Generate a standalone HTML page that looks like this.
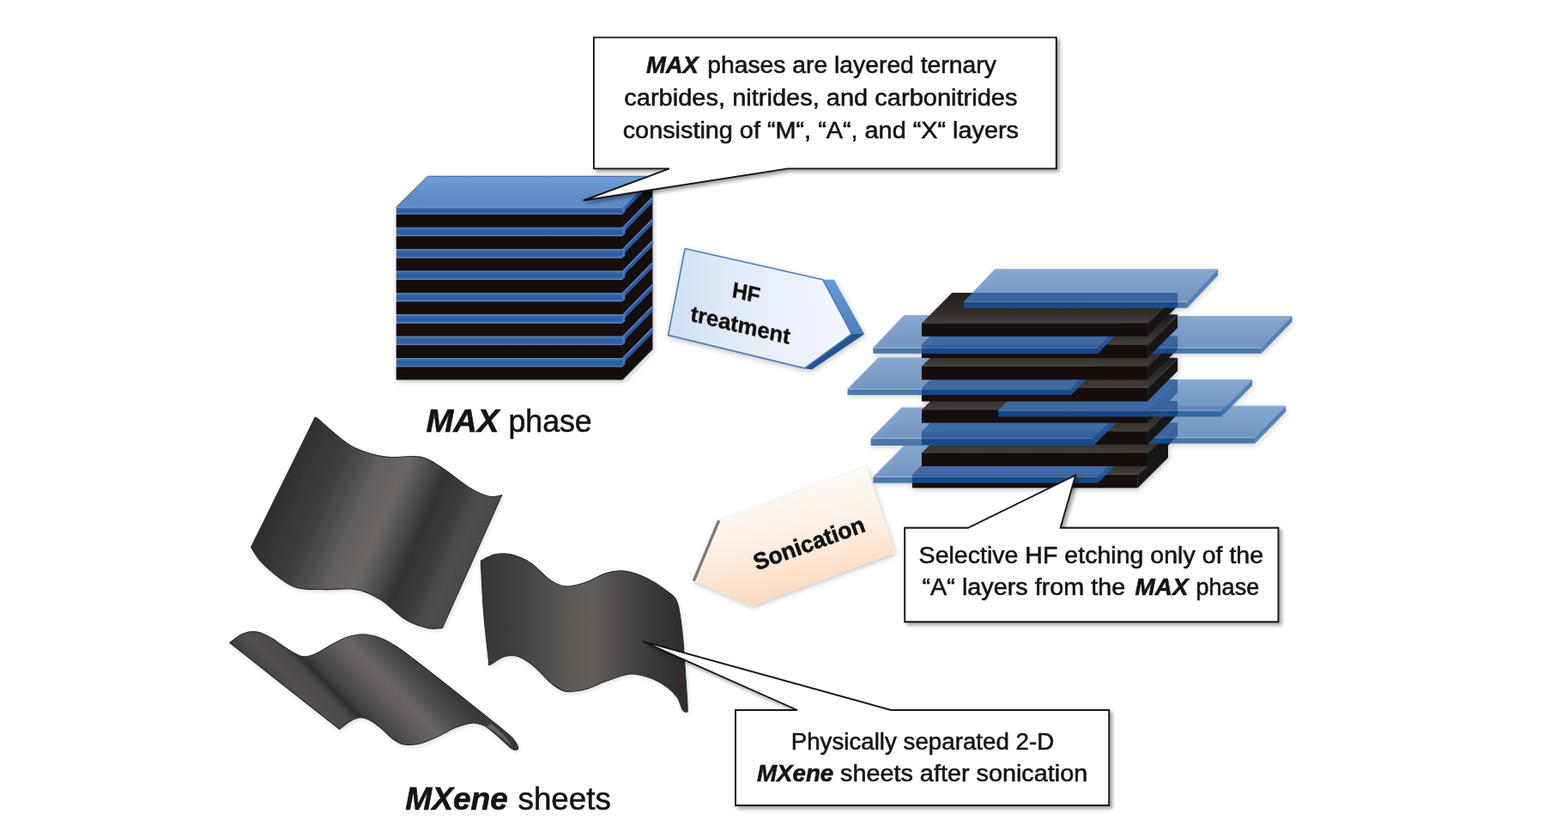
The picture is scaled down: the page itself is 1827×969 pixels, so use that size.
<!DOCTYPE html>
<html lang="en">
<head>
<meta charset="utf-8">
<title>MAX phase to MXene sheets</title>
<style>
html,body{margin:0;padding:0;background:#fff;}
body{width:1827px;height:969px;overflow:hidden;}
svg text{font-family:"Liberation Sans",sans-serif;}
</style>
</head>
<body>
<svg width="1827" height="969" viewBox="0 0 1827 969" style="display:block">

<defs>
<filter id="sh" x="-10%" y="-10%" width="125%" height="140%">
  <feGaussianBlur in="SourceAlpha" stdDeviation="2.2"/>
  <feOffset dx="2.5" dy="2.5" result="o"/>
  <feComponentTransfer><feFuncA type="linear" slope="0.38"/></feComponentTransfer>
  <feMerge><feMergeNode/><feMergeNode in="SourceGraphic"/></feMerge>
</filter>
<filter id="sh2" x="-10%" y="-10%" width="125%" height="140%">
  <feGaussianBlur in="SourceAlpha" stdDeviation="3"/>
  <feOffset dx="1" dy="2" result="o"/>
  <feComponentTransfer><feFuncA type="linear" slope="0.25"/></feComponentTransfer>
  <feMerge><feMergeNode/><feMergeNode in="SourceGraphic"/></feMerge>
</filter>
<filter id="sh3" x="-10%" y="-10%" width="125%" height="140%">
  <feGaussianBlur in="SourceAlpha" stdDeviation="2.5"/>
  <feOffset dx="0.5" dy="1.5" result="o"/>
  <feComponentTransfer><feFuncA type="linear" slope="0.14"/></feComponentTransfer>
  <feMerge><feMergeNode/><feMergeNode in="SourceGraphic"/></feMerge>
</filter>
<filter id="blur1"><feGaussianBlur stdDeviation="0.6"/></filter>
<linearGradient id="gBlueFront" x1="0" y1="0" x2="0" y2="1">
  <stop offset="0" stop-color="#5f88bf"/><stop offset="0.18" stop-color="#3a69aa"/><stop offset="0.5" stop-color="#2c5b9f"/><stop offset="0.82" stop-color="#3163a9"/><stop offset="1" stop-color="#6b98cf"/>
</linearGradient>
<linearGradient id="gBlueTop" x1="0" y1="0" x2="0" y2="1">
  <stop offset="0" stop-color="#6f9dd5"/><stop offset="0.75" stop-color="#6189c4"/><stop offset="1" stop-color="#5a8dc9"/>
</linearGradient>
<linearGradient id="gHF" x1="0" y1="0.5" x2="1" y2="0.5">
  <stop offset="0" stop-color="#cfdff4"/><stop offset="0.35" stop-color="#e1ebf8"/><stop offset="1" stop-color="#f3f7fc"/>
</linearGradient>
<linearGradient id="gHFside" x1="0" y1="0" x2="0" y2="1">
  <stop offset="0" stop-color="#6a9ad6"/><stop offset="0.55" stop-color="#4f82c2"/><stop offset="1" stop-color="#2c5a98"/>
</linearGradient>
<linearGradient id="gSon" x1="0.3" y1="0" x2="0.6" y2="1">
  <stop offset="0" stop-color="#fffdfb"/><stop offset="0.45" stop-color="#fef2e8"/><stop offset="1" stop-color="#fbd5b6"/>
</linearGradient>
<linearGradient id="gA" gradientUnits="userSpaceOnUse" x1="330" y1="560" x2="550" y2="655">
  <stop offset="0" stop-color="#302e2d"/><stop offset="0.22" stop-color="#413f3e"/><stop offset="0.40" stop-color="#625f5d"/><stop offset="0.52" stop-color="#6a6765"/>
  <stop offset="0.62" stop-color="#504d4c"/><stop offset="0.71" stop-color="#343231"/><stop offset="0.80" stop-color="#3b3938"/><stop offset="0.92" stop-color="#514e4d"/><stop offset="1" stop-color="#4a4746"/>
</linearGradient>
<linearGradient id="gB" gradientUnits="userSpaceOnUse" x1="560" y1="0" x2="802" y2="0">
  <stop offset="0" stop-color="#373534"/><stop offset="0.2" stop-color="#434140"/><stop offset="0.42" stop-color="#5c5957"/><stop offset="0.55" stop-color="#5f5c5a"/>
  <stop offset="0.72" stop-color="#484544"/><stop offset="0.88" stop-color="#353332"/><stop offset="1" stop-color="#2e2c2b"/>
</linearGradient>
<linearGradient id="gC" gradientUnits="userSpaceOnUse" x1="300" y1="783.5" x2="408" y2="679.5">
  <stop offset="0" stop-color="#3d3b3a"/><stop offset="0.14" stop-color="#545150"/><stop offset="0.27" stop-color="#4b4847"/><stop offset="0.325" stop-color="#302e2d"/><stop offset="0.4" stop-color="#454241"/>
  <stop offset="0.55" stop-color="#5c5957"/><stop offset="0.68" stop-color="#696664"/><stop offset="0.84" stop-color="#4d4a49"/><stop offset="1" stop-color="#3a3837"/>
</linearGradient>
</defs>

<rect width="1827" height="969" fill="#ffffff"/>
<g filter="url(#sh2)">
<rect x="461.7" y="241.4" width="264.0" height="8.2" fill="url(#gBlueFront)"/>
<rect x="461.7" y="249.6" width="264.0" height="15.3" fill="#131110"/>
<polygon points="725.1,241.1 760.4,205.1 760.4,229.2 725.1,265.2" fill="#141110" />
<polygon points="725.1,241.4 760.4,205.4 760.4,212.4 725.1,248.4" fill="#2b589e" />
<polygon points="725.1,241.4 760.4,205.4 760.4,207.2 725.1,243.2" fill="#5a8bd0" />
<polygon points="725.1,241.4 728.3,238.7 728.3,246.9 725.1,249.6" fill="#4276bb" />
<rect x="461.7" y="264.9" width="264.0" height="10.2" fill="url(#gBlueFront)"/>
<rect x="461.7" y="275.1" width="264.0" height="15.2" fill="#131110"/>
<polygon points="725.1,264.6 760.4,228.6 760.4,254.6 725.1,290.6" fill="#141110" />
<polygon points="725.1,264.9 760.4,228.9 760.4,235.9 725.1,271.9" fill="#2b589e" />
<polygon points="725.1,264.9 760.4,228.9 760.4,230.7 725.1,266.7" fill="#5a8bd0" />
<polygon points="725.1,264.9 728.3,262.2 728.3,272.4 725.1,275.1" fill="#4276bb" />
<rect x="461.7" y="290.3" width="264.0" height="10.2" fill="url(#gBlueFront)"/>
<rect x="461.7" y="300.5" width="264.0" height="15.2" fill="#131110"/>
<polygon points="725.1,290.0 760.4,254.0 760.4,279.9 725.1,315.9" fill="#141110" />
<polygon points="725.1,290.3 760.4,254.3 760.4,261.3 725.1,297.3" fill="#2b589e" />
<polygon points="725.1,290.3 760.4,254.3 760.4,256.1 725.1,292.1" fill="#5a8bd0" />
<polygon points="725.1,290.3 728.3,287.6 728.3,297.8 725.1,300.5" fill="#4276bb" />
<rect x="461.7" y="315.6" width="264.0" height="10.2" fill="url(#gBlueFront)"/>
<rect x="461.7" y="325.8" width="264.0" height="15.2" fill="#131110"/>
<polygon points="725.1,315.3 760.4,279.3 760.4,305.3 725.1,341.3" fill="#141110" />
<polygon points="725.1,315.6 760.4,279.6 760.4,286.6 725.1,322.6" fill="#2b589e" />
<polygon points="725.1,315.6 760.4,279.6 760.4,281.4 725.1,317.4" fill="#5a8bd0" />
<polygon points="725.1,315.6 728.3,312.9 728.3,323.1 725.1,325.8" fill="#4276bb" />
<rect x="461.7" y="341.0" width="264.0" height="10.2" fill="url(#gBlueFront)"/>
<rect x="461.7" y="351.2" width="264.0" height="15.2" fill="#131110"/>
<polygon points="725.1,340.7 760.4,304.7 760.4,330.7 725.1,366.7" fill="#141110" />
<polygon points="725.1,341.0 760.4,305.0 760.4,312.0 725.1,348.0" fill="#2b589e" />
<polygon points="725.1,341.0 760.4,305.0 760.4,306.8 725.1,342.8" fill="#5a8bd0" />
<polygon points="725.1,341.0 728.3,338.3 728.3,348.5 725.1,351.2" fill="#4276bb" />
<rect x="461.7" y="366.4" width="264.0" height="10.2" fill="url(#gBlueFront)"/>
<rect x="461.7" y="376.6" width="264.0" height="15.2" fill="#131110"/>
<polygon points="725.1,366.1 760.4,330.1 760.4,356.1 725.1,392.1" fill="#141110" />
<polygon points="725.1,366.4 760.4,330.4 760.4,337.4 725.1,373.4" fill="#2b589e" />
<polygon points="725.1,366.4 760.4,330.4 760.4,332.2 725.1,368.2" fill="#5a8bd0" />
<polygon points="725.1,366.4 728.3,363.7 728.3,373.9 725.1,376.6" fill="#4276bb" />
<rect x="461.7" y="391.8" width="264.0" height="10.2" fill="url(#gBlueFront)"/>
<rect x="461.7" y="401.9" width="264.0" height="15.2" fill="#131110"/>
<polygon points="725.1,391.4 760.4,355.4 760.4,381.4 725.1,417.4" fill="#141110" />
<polygon points="725.1,391.8 760.4,355.8 760.4,362.8 725.1,398.8" fill="#2b589e" />
<polygon points="725.1,391.8 760.4,355.8 760.4,357.6 725.1,393.6" fill="#5a8bd0" />
<polygon points="725.1,391.8 728.3,389.1 728.3,399.2 725.1,401.9" fill="#4276bb" />
<rect x="461.7" y="417.1" width="264.0" height="10.2" fill="url(#gBlueFront)"/>
<rect x="461.7" y="427.3" width="264.0" height="15.1" fill="#131110"/>
<polygon points="725.1,416.8 760.4,380.8 760.4,406.7 725.1,442.7" fill="#141110" />
<polygon points="725.1,417.1 760.4,381.1 760.4,388.1 725.1,424.1" fill="#2b589e" />
<polygon points="725.1,417.1 760.4,381.1 760.4,382.9 725.1,418.9" fill="#5a8bd0" />
<polygon points="725.1,417.1 728.3,414.4 728.3,424.6 725.1,427.3" fill="#4276bb" />
<polygon points="461.7,241.4 498.5,205.4 760.4,205.4 725.7,241.4" fill="url(#gBlueTop)" />
<path d="M461.7,241.4 L498.5,205.4 L760.4000000000001,205.4" fill="none" stroke="#3f6494" stroke-width="1.2" opacity="0.8"/>
</g>
<clipPath id="stackclip">
<polygon points="1074.0,376.4 1109.3,341.1 1372.1,341.1 1372.1,356.5 1336.8,391.8 1074.0,391.8" fill="#000" />
<polygon points="1074.0,401.6 1109.3,366.3 1372.1,366.3 1372.1,381.7 1336.8,417.0 1074.0,417.0" fill="#000" />
<polygon points="1074.0,426.8 1109.3,391.5 1372.1,391.5 1372.1,406.9 1336.8,442.2 1074.0,442.2" fill="#000" />
<polygon points="1074.0,452.0 1109.3,416.7 1372.1,416.7 1372.1,432.1 1336.8,467.4 1074.0,467.4" fill="#000" />
<polygon points="1074.0,477.2 1109.3,441.9 1372.1,441.9 1372.1,457.3 1336.8,492.6 1074.0,492.6" fill="#000" />
<polygon points="1074.0,502.4 1109.3,467.1 1372.1,467.1 1372.1,482.5 1336.8,517.8 1074.0,517.8" fill="#000" />
<polygon points="1074.0,527.6 1109.3,492.3 1372.1,492.3 1372.1,507.7 1336.8,543.0 1074.0,543.0" fill="#000" />
<polygon points="1062.9,552.8 1098.2,517.5 1361.0,517.5 1361.0,532.9 1325.7,568.2 1062.9,568.2" fill="#000" />
</clipPath>
<linearGradient id="gSlabTop" x1="0" y1="1" x2="0" y2="0"><stop offset="0" stop-color="#463e3a"/><stop offset="0.3" stop-color="#352f2c"/><stop offset="1" stop-color="#211c1a"/></linearGradient>
<linearGradient id="gShTop" x1="0" y1="0" x2="0" y2="1"><stop offset="0" stop-color="#6792c8"/><stop offset="1" stop-color="#527db3"/></linearGradient>
<g filter="url(#sh2)">
<polygon points="1062.9,552.8 1098.2,517.5 1361.0,517.5 1325.7,552.8" fill="url(#gSlabTop)" />
<polygon points="1325.7,552.8 1361.0,517.5 1361.0,532.9 1325.7,568.2" fill="#191514" />
<polygon points="1325.7,552.8 1361.0,517.5 1361.0,519.1 1325.7,554.4" fill="#3a3431" />
<polygon points="1062.9,552.8 1325.7,552.8 1325.7,568.2 1062.9,568.2" fill="#15110f" />
<g opacity="0.74">
<polygon points="1017.4,555.2 1053.4,519.0 1315.2,519.0 1279.2,555.2" fill="url(#gShTop)" />
<polygon points="1279.2,555.2 1315.2,519.0 1315.2,526.4 1279.2,562.6" fill="#2a62a4" />
<polygon points="1017.4,555.2 1279.2,555.2 1279.2,562.6 1017.4,562.6" fill="#1b5594" />
<polygon points="1017.4,554.7 1279.2,554.7 1279.2,555.9 1017.4,555.9" fill="#7ea3d2" />
</g>
<g clip-path="url(#stackclip)" opacity="0.3">
<polygon points="1017.4,555.2 1053.4,519.0 1315.2,519.0 1279.2,555.2" fill="#1d5cc0" />
<polygon points="1279.2,555.2 1315.2,519.0 1315.2,526.4 1279.2,562.6" fill="#1a56b8" />
<polygon points="1017.4,555.2 1279.2,555.2 1279.2,562.6 1017.4,562.6" fill="#1a56b8" />
</g>
<polygon points="1074.0,527.6 1109.3,492.3 1372.1,492.3 1336.8,527.6" fill="url(#gSlabTop)" />
<polygon points="1336.8,527.6 1372.1,492.3 1372.1,507.7 1336.8,543.0" fill="#191514" />
<polygon points="1336.8,527.6 1372.1,492.3 1372.1,493.9 1336.8,529.2" fill="#3a3431" />
<polygon points="1074.0,527.6 1336.8,527.6 1336.8,543.0 1074.0,543.0" fill="#15110f" />
<g opacity="0.74">
<polygon points="1290.0,509.5 1326.0,472.5 1498.2,472.5 1462.2,509.5" fill="url(#gShTop)" />
<polygon points="1462.2,509.5 1498.2,472.5 1498.2,479.5 1462.2,516.5" fill="#2a62a4" />
<polygon points="1290.0,509.5 1462.2,509.5 1462.2,516.5 1290.0,516.5" fill="#1b5594" />
<polygon points="1290.0,509.0 1462.2,509.0 1462.2,510.2 1290.0,510.2" fill="#7ea3d2" />
</g>
<g clip-path="url(#stackclip)" opacity="0.3">
<polygon points="1290.0,509.5 1326.0,472.5 1498.2,472.5 1462.2,509.5" fill="#1d5cc0" />
<polygon points="1462.2,509.5 1498.2,472.5 1498.2,479.5 1462.2,516.5" fill="#1a56b8" />
<polygon points="1290.0,509.5 1462.2,509.5 1462.2,516.5 1290.0,516.5" fill="#1a56b8" />
</g>
<polygon points="1074.0,502.4 1109.3,467.1 1372.1,467.1 1336.8,502.4" fill="url(#gSlabTop)" />
<polygon points="1336.8,502.4 1372.1,467.1 1372.1,482.5 1336.8,517.8" fill="#191514" />
<polygon points="1336.8,502.4 1372.1,467.1 1372.1,468.7 1336.8,504.0" fill="#3a3431" />
<polygon points="1074.0,502.4 1336.8,502.4 1336.8,517.8 1074.0,517.8" fill="#15110f" />
<g opacity="0.74">
<polygon points="1014.6,510.5 1050.6,474.4 1310.0,474.4 1274.0,510.5" fill="url(#gShTop)" />
<polygon points="1274.0,510.5 1310.0,474.4 1310.0,482.9 1274.0,519.0" fill="#2a62a4" />
<polygon points="1014.6,510.5 1274.0,510.5 1274.0,519.0 1014.6,519.0" fill="#1b5594" />
<polygon points="1014.6,510.0 1274.0,510.0 1274.0,511.2 1014.6,511.2" fill="#7ea3d2" />
</g>
<g clip-path="url(#stackclip)" opacity="0.3">
<polygon points="1014.6,510.5 1050.6,474.4 1310.0,474.4 1274.0,510.5" fill="#1d5cc0" />
<polygon points="1274.0,510.5 1310.0,474.4 1310.0,482.9 1274.0,519.0" fill="#1a56b8" />
<polygon points="1014.6,510.5 1274.0,510.5 1274.0,519.0 1014.6,519.0" fill="#1a56b8" />
</g>
<polygon points="1074.0,477.2 1109.3,441.9 1372.1,441.9 1336.8,477.2" fill="url(#gSlabTop)" />
<polygon points="1336.8,477.2 1372.1,441.9 1372.1,457.3 1336.8,492.6" fill="#191514" />
<polygon points="1336.8,477.2 1372.1,441.9 1372.1,443.5 1336.8,478.8" fill="#3a3431" />
<polygon points="1074.0,477.2 1336.8,477.2 1336.8,492.6 1074.0,492.6" fill="#15110f" />
<g opacity="0.74">
<polygon points="1163.2,478.0 1199.2,441.9 1459.2,441.9 1423.2,478.0" fill="url(#gShTop)" />
<polygon points="1423.2,478.0 1459.2,441.9 1459.2,449.1 1423.2,485.2" fill="#2a62a4" />
<polygon points="1163.2,478.0 1423.2,478.0 1423.2,485.2 1163.2,485.2" fill="#1b5594" />
<polygon points="1163.2,477.5 1423.2,477.5 1423.2,478.7 1163.2,478.7" fill="#7ea3d2" />
</g>
<g clip-path="url(#stackclip)" opacity="0.3">
<polygon points="1163.2,478.0 1199.2,441.9 1459.2,441.9 1423.2,478.0" fill="#1d5cc0" />
<polygon points="1423.2,478.0 1459.2,441.9 1459.2,449.1 1423.2,485.2" fill="#1a56b8" />
<polygon points="1163.2,478.0 1423.2,478.0 1423.2,485.2 1163.2,485.2" fill="#1a56b8" />
</g>
<polygon points="1074.0,452.0 1109.3,416.7 1372.1,416.7 1336.8,452.0" fill="url(#gSlabTop)" />
<polygon points="1336.8,452.0 1372.1,416.7 1372.1,432.1 1336.8,467.4" fill="#191514" />
<polygon points="1336.8,452.0 1372.1,416.7 1372.1,418.3 1336.8,453.6" fill="#3a3431" />
<polygon points="1074.0,452.0 1336.8,452.0 1336.8,467.4 1074.0,467.4" fill="#15110f" />
<g opacity="0.74">
<polygon points="987.6,453.0 1023.6,416.3 1284.0,416.3 1248.0,453.0" fill="url(#gShTop)" />
<polygon points="1248.0,453.0 1284.0,416.3 1284.0,423.3 1248.0,460.0" fill="#2a62a4" />
<polygon points="987.6,453.0 1248.0,453.0 1248.0,460.0 987.6,460.0" fill="#1b5594" />
<polygon points="987.6,452.5 1248.0,452.5 1248.0,453.7 987.6,453.7" fill="#7ea3d2" />
</g>
<g clip-path="url(#stackclip)" opacity="0.3">
<polygon points="987.6,453.0 1023.6,416.3 1284.0,416.3 1248.0,453.0" fill="#1d5cc0" />
<polygon points="1248.0,453.0 1284.0,416.3 1284.0,423.3 1248.0,460.0" fill="#1a56b8" />
<polygon points="987.6,453.0 1248.0,453.0 1248.0,460.0 987.6,460.0" fill="#1a56b8" />
</g>
<polygon points="1074.0,426.8 1109.3,391.5 1372.1,391.5 1336.8,426.8" fill="url(#gSlabTop)" />
<polygon points="1336.8,426.8 1372.1,391.5 1372.1,406.9 1336.8,442.2" fill="#191514" />
<polygon points="1336.8,426.8 1372.1,391.5 1372.1,393.1 1336.8,428.4" fill="#3a3431" />
<polygon points="1074.0,426.8 1336.8,426.8 1336.8,442.2 1074.0,442.2" fill="#15110f" />
<g opacity="0.74">
<polygon points="1290.0,405.0 1326.0,368.0 1505.6,368.0 1469.6,405.0" fill="url(#gShTop)" />
<polygon points="1469.6,405.0 1505.6,368.0 1505.6,374.7 1469.6,411.7" fill="#2a62a4" />
<polygon points="1290.0,405.0 1469.6,405.0 1469.6,411.7 1290.0,411.7" fill="#1b5594" />
<polygon points="1290.0,404.5 1469.6,404.5 1469.6,405.7 1290.0,405.7" fill="#7ea3d2" />
</g>
<g clip-path="url(#stackclip)" opacity="0.3">
<polygon points="1290.0,405.0 1326.0,368.0 1505.6,368.0 1469.6,405.0" fill="#1d5cc0" />
<polygon points="1469.6,405.0 1505.6,368.0 1505.6,374.7 1469.6,411.7" fill="#1a56b8" />
<polygon points="1290.0,405.0 1469.6,405.0 1469.6,411.7 1290.0,411.7" fill="#1a56b8" />
</g>
<polygon points="1074.0,401.6 1109.3,366.3 1372.1,366.3 1336.8,401.6" fill="url(#gSlabTop)" />
<polygon points="1336.8,401.6 1372.1,366.3 1372.1,381.7 1336.8,417.0" fill="#191514" />
<polygon points="1336.8,401.6 1372.1,366.3 1372.1,367.9 1336.8,403.2" fill="#3a3431" />
<polygon points="1074.0,401.6 1336.8,401.6 1336.8,417.0 1074.0,417.0" fill="#15110f" />
<g opacity="0.74">
<polygon points="1017.4,405.0 1053.4,367.1 1315.3,367.1 1279.3,405.0" fill="url(#gShTop)" />
<polygon points="1279.3,405.0 1315.3,367.1 1315.3,373.8 1279.3,411.7" fill="#2a62a4" />
<polygon points="1017.4,405.0 1279.3,405.0 1279.3,411.7 1017.4,411.7" fill="#1b5594" />
<polygon points="1017.4,404.5 1279.3,404.5 1279.3,405.7 1017.4,405.7" fill="#7ea3d2" />
</g>
<g clip-path="url(#stackclip)" opacity="0.3">
<polygon points="1017.4,405.0 1053.4,367.1 1315.3,367.1 1279.3,405.0" fill="#1d5cc0" />
<polygon points="1279.3,405.0 1315.3,367.1 1315.3,373.8 1279.3,411.7" fill="#1a56b8" />
<polygon points="1017.4,405.0 1279.3,405.0 1279.3,411.7 1017.4,411.7" fill="#1a56b8" />
</g>
<polygon points="1074.0,376.4 1109.3,341.1 1372.1,341.1 1336.8,376.4" fill="url(#gSlabTop)" />
<polygon points="1336.8,376.4 1372.1,341.1 1372.1,356.5 1336.8,391.8" fill="#191514" />
<polygon points="1336.8,376.4 1372.1,341.1 1372.1,342.7 1336.8,378.0" fill="#3a3431" />
<polygon points="1074.0,376.4 1336.8,376.4 1336.8,391.8 1074.0,391.8" fill="#15110f" />
<g opacity="0.74">
<polygon points="1123.2,351.3 1159.2,313.2 1419.2,313.2 1383.2,351.3" fill="url(#gShTop)" />
<polygon points="1383.2,351.3 1419.2,313.2 1419.2,320.6 1383.2,358.7" fill="#2a62a4" />
<polygon points="1123.2,351.3 1383.2,351.3 1383.2,358.7 1123.2,358.7" fill="#1b5594" />
<polygon points="1123.2,350.8 1383.2,350.8 1383.2,352.0 1123.2,352.0" fill="#7ea3d2" />
</g>
<g clip-path="url(#stackclip)" opacity="0.3">
<polygon points="1123.2,351.3 1159.2,313.2 1419.2,313.2 1383.2,351.3" fill="#1d5cc0" />
<polygon points="1383.2,351.3 1419.2,313.2 1419.2,320.6 1383.2,358.7" fill="#1a56b8" />
<polygon points="1123.2,351.3 1383.2,351.3 1383.2,358.7 1123.2,358.7" fill="#1a56b8" />
</g>
</g>
<g filter="url(#sh2)">
<polygon points="958.8,325.7 971.8,325.7 1007.1,388.9 945.8,430.2 937.4,428.9 992.3,388.9" fill="url(#gHFside)" />
<polygon points="992.3,388.9 1007.1,388.9 945.8,430.2 937.4,428.9" fill="#28528d" />
<polygon points="798.1,289.5 958.8,325.7 992.3,388.9 937.4,428.9 778.6,390.4" fill="url(#gHF)" stroke="#4f7db8" stroke-width="1.6" stroke-linejoin="round"/>
</g>
<g transform="translate(869.6,340.3) rotate(13.3) skewX(5)" font-family="'Liberation Sans', sans-serif" font-weight="bold" font-size="25.5" fill="#111" stroke="#111" stroke-width="0.4" opacity="0.995" text-anchor="middle">
<text x="0" y="9.3" textLength="33" lengthAdjust="spacingAndGlyphs">HF</text>
</g>
<g transform="translate(863,377.9) rotate(13.3) skewX(5)" font-family="'Liberation Sans', sans-serif" font-weight="bold" font-size="25.5" fill="#111" stroke="#111" stroke-width="0.4" opacity="0.995" text-anchor="middle">
<text x="0" y="9.3" textLength="119" lengthAdjust="spacingAndGlyphs">treatment</text>
</g>
<g filter="url(#sh2)">
<polygon points="839.0,606.5 1009.6,543.7 1042.9,643.7 876.3,705.5 809.6,677.1" fill="url(#gSon)" />
<polygon points="836.2,605.5 839.2,606.8 809.8,677.3 806.8,676.0" fill="#7e7876" />
</g>
<g transform="translate(942.9,632) rotate(-19.8)" font-family="'Liberation Sans', sans-serif" font-weight="bold" font-size="27" fill="#111" opacity="0.995" text-anchor="middle">
<text x="-0.5" y="9.8" textLength="136" lengthAdjust="spacingAndGlyphs" stroke="#111" stroke-width="0.6">Sonication</text>
</g>
<path d="M366.8,486.8 C367.3,486.9 365.6,484.1 369.7,487.3 C373.8,490.5 383.9,500.3 391.3,506.1 C398.8,511.9 404.8,517.7 414.4,522.0 C424.0,526.3 436.6,530.4 449.1,532.1 C461.6,533.8 478.4,529.9 489.5,532.1 C500.6,534.3 505.9,539.1 515.5,545.1 C525.1,551.1 538.1,562.7 547.3,568.2 C556.4,573.7 564.1,576.9 570.4,578.3 C576.6,579.7 582.4,576.9 584.8,576.6 C573.2,602.4 527.0,705.6 515.5,731.4 C512.6,731.4 505.4,733.1 498.2,731.4 C491.0,729.7 481.3,726.8 472.2,721.3 C463.1,715.8 452.9,704.0 443.3,698.2 C433.7,692.4 425.0,688.3 414.4,686.4 C403.8,684.5 391.8,687.1 379.8,686.6 C367.8,686.1 354.2,688.0 342.2,683.2 C330.2,678.4 315.9,665.4 307.6,657.8 C299.3,650.2 295.0,640.9 292.5,637.5 C304.9,612.4 354.4,511.9 366.8,486.8Z" fill="url(#gA)" stroke="#2c2a29" stroke-width="1.1" stroke-linejoin="round" filter="url(#sh3)"/>
<path d="M560.2,653.2 C562.8,652.0 569.9,647.4 575.6,646.1 C581.3,644.8 587.5,644.0 594.6,645.6 C601.7,647.2 610.8,650.8 618.3,655.6 C625.8,660.4 633.0,670.1 639.7,674.6 C646.4,679.1 651.6,682.3 658.7,682.9 C665.8,683.5 674.5,680.8 682.4,678.2 C690.3,675.6 698.7,669.7 706.2,667.5 C713.7,665.3 719.6,664.1 727.5,665.1 C735.4,666.1 745.3,669.5 753.6,673.4 C761.9,677.3 771.5,684.0 777.4,688.8 C783.3,693.5 786.2,693.6 789.2,701.9 C792.2,710.2 793.6,724.7 795.2,738.7 C796.8,752.8 797.7,772.0 798.7,786.2 C799.7,800.4 800.9,817.0 801.1,824.1 C801.3,831.2 800.9,828.5 799.9,828.9 C798.9,829.3 797.0,829.3 795.2,826.5 C793.4,823.7 792.2,816.6 789.2,812.3 C786.2,807.9 782.5,804.2 777.4,800.4 C772.3,796.6 765.5,792.3 758.4,789.7 C751.3,787.1 743.3,784.4 734.6,785.0 C725.9,785.6 714.9,790.3 706.2,793.3 C697.5,796.3 690.3,800.8 682.4,802.8 C674.5,804.8 665.4,806.3 658.7,805.1 C652.0,803.9 648.0,800.3 642.1,795.6 C636.2,790.9 629.4,781.8 623.1,776.7 C616.8,771.6 610.0,766.8 604.1,764.8 C598.2,762.8 593.0,763.2 587.5,764.8 C582.0,766.4 573.9,773.1 570.9,774.3 C567.9,775.5 569.9,772.3 569.7,771.9 C568.7,762.4 565.3,734.7 563.7,714.9 C562.1,695.1 560.8,663.5 560.2,653.2Z" fill="url(#gB)" stroke="#2c2a29" stroke-width="1.1" stroke-linejoin="round" filter="url(#sh3)"/>
<path d="M267.7,748.5 C270.3,746.8 277.9,740.2 283.3,738.1 C288.7,736.0 294.3,735.1 299.9,736.0 C305.4,736.9 311.1,740.2 316.6,743.3 C322.2,746.4 327.3,751.2 333.2,754.7 C339.1,758.2 346.3,763.3 351.9,764.5 C357.4,765.7 360.9,764.1 366.5,762.0 C372.1,759.9 379.0,754.9 385.2,751.6 C391.4,748.3 397.7,744.4 403.9,742.2 C410.1,740.1 416.4,738.7 422.6,738.7 C428.8,738.7 435.4,740.2 441.3,742.2 C447.2,744.2 451.8,746.8 458.0,750.6 C464.2,754.4 466.7,755.9 478.8,765.1 C490.9,774.3 513.5,792.0 530.8,805.7 C548.1,819.4 571.7,838.3 582.8,847.3 C593.9,856.3 593.8,856.0 597.3,859.8 C600.8,863.6 602.9,867.9 603.6,870.1 C604.3,872.4 602.9,873.1 601.5,873.3 C600.1,873.5 598.4,873.5 595.3,871.2 C592.2,869.0 587.0,863.4 582.8,859.8 C578.6,856.2 573.8,852.0 570.3,849.4 C566.8,846.8 565.5,845.4 562.0,844.2 C558.5,843.0 554.7,841.6 549.5,842.1 C544.3,842.6 537.4,844.7 530.8,847.3 C524.2,849.9 516.9,854.6 510.0,857.7 C503.1,860.8 495.8,864.5 489.2,866.0 C482.6,867.5 475.7,867.9 470.5,867.0 C465.3,866.1 462.2,863.7 458.0,860.8 C453.8,857.9 449.7,852.9 445.5,849.4 C441.3,845.9 437.2,842.3 433.0,840.0 C428.8,837.7 424.6,835.8 420.5,835.8 C416.4,835.8 412.2,837.7 408.1,840.0 C404.0,842.3 397.7,847.8 395.6,849.4 C374.3,832.6 289.0,765.3 267.7,748.5Z" fill="url(#gC)" stroke="#2c2a29" stroke-width="1.1" stroke-linejoin="round" filter="url(#sh3)"/>
<path d="M351.9,764.5 L420.5,835.8" stroke="#2b2928" stroke-width="1.2" fill="none" opacity="0.5"/>
<path d="M566,846 C575,850 586,860 596,869 C592,860 582,850 572,843 Z" fill="#6f6c6a" opacity="0.8"/>
<path d="M691.9,43.6 L1230.8,43.6 L1230.8,196.4 L917.8,196.4 L679.7,233.5 L779.9,196.4 L691.9,196.4 Z" fill="#ffffff" stroke="#141414" stroke-width="1.9" stroke-linejoin="miter" filter="url(#sh)"/>
<text x="752.9" y="84.9" textLength="60.8" lengthAdjust="spacingAndGlyphs" font-family="'Liberation Sans', sans-serif" font-size="27" font-weight="bold" font-style="italic" fill="#151313" stroke="#151313" stroke-width="0.55" opacity="0.995" xml:space="preserve">MAX</text>
<text x="824.2" y="84.9" textLength="336.6" lengthAdjust="spacingAndGlyphs" font-family="'Liberation Sans', sans-serif" font-size="27" fill="#151313" stroke="#151313" stroke-width="0.55" opacity="0.995" xml:space="preserve">phases are layered ternary</text>
<text x="727.3" y="123.1" textLength="458.2" lengthAdjust="spacingAndGlyphs" font-family="'Liberation Sans', sans-serif" font-size="27" fill="#151313" stroke="#151313" stroke-width="0.55" opacity="0.995" xml:space="preserve">carbides, nitrides, and carbonitrides</text>
<text x="725.7" y="161.3" textLength="461.3" lengthAdjust="spacingAndGlyphs" font-family="'Liberation Sans', sans-serif" font-size="27" fill="#151313" stroke="#151313" stroke-width="0.55" opacity="0.995" xml:space="preserve">consisting of “M“, “A“, and “X“ layers</text>
<path d="M1054.2,614.8 L1127.9,614.8 L1253.2,553.5 L1235.6,614.8 L1489.5,614.8 L1489.5,724.2 L1054.2,724.2 Z" fill="#ffffff" stroke="#141414" stroke-width="1.9" stroke-linejoin="miter" filter="url(#sh)"/>
<text x="1070.6" y="655.6" textLength="401.5" lengthAdjust="spacingAndGlyphs" font-family="'Liberation Sans', sans-serif" font-size="27" fill="#151313" stroke="#151313" stroke-width="0.55" opacity="0.995" xml:space="preserve">Selective HF etching only of the</text>
<text x="1074.5" y="692.8" textLength="236.9" lengthAdjust="spacingAndGlyphs" font-family="'Liberation Sans', sans-serif" font-size="27" fill="#151313" stroke="#151313" stroke-width="0.55" opacity="0.995" xml:space="preserve">“A“ layers from the</text>
<text x="1322.5" y="692.8" textLength="62.0" lengthAdjust="spacingAndGlyphs" font-family="'Liberation Sans', sans-serif" font-size="27" font-weight="bold" font-style="italic" fill="#151313" stroke="#151313" stroke-width="0.55" opacity="0.995" xml:space="preserve">MAX</text>
<text x="1393.4" y="692.8" textLength="73.9" lengthAdjust="spacingAndGlyphs" font-family="'Liberation Sans', sans-serif" font-size="27" fill="#151313" stroke="#151313" stroke-width="0.55" opacity="0.995" xml:space="preserve">phase</text>
<path d="M857.0,827.0 L929.0,827.0 L748.9,747 L1038.1,827.0 L1292.2,827.0 L1292.2,938.0 L857.0,938.0 Z" fill="#ffffff" stroke="#141414" stroke-width="1.9" stroke-linejoin="miter" filter="url(#sh)"/>
<text x="921.7" y="872.5" textLength="306.5" lengthAdjust="spacingAndGlyphs" font-family="'Liberation Sans', sans-serif" font-size="27" fill="#151313" stroke="#151313" stroke-width="0.55" opacity="0.995" xml:space="preserve">Physically separated 2-D</text>
<text x="881.9" y="909.8" textLength="89.4" lengthAdjust="spacingAndGlyphs" font-family="'Liberation Sans', sans-serif" font-size="27" font-weight="bold" font-style="italic" fill="#151313" stroke="#151313" stroke-width="0.55" opacity="0.995" xml:space="preserve">MXene</text>
<text x="979.0" y="909.8" textLength="288.2" lengthAdjust="spacingAndGlyphs" font-family="'Liberation Sans', sans-serif" font-size="27" fill="#151313" stroke="#151313" stroke-width="0.55" opacity="0.995" xml:space="preserve">sheets after sonication</text>
<text x="496.5" y="503.4" textLength="84.9" lengthAdjust="spacingAndGlyphs" font-family="'Liberation Sans', sans-serif" font-size="36" font-weight="bold" font-style="italic" fill="#151313" stroke="#151313" stroke-width="0.55" opacity="0.995" xml:space="preserve">MAX</text>
<text x="592.5" y="503.4" textLength="97.2" lengthAdjust="spacingAndGlyphs" font-family="'Liberation Sans', sans-serif" font-size="36" fill="#151313" stroke="#151313" stroke-width="0.55" opacity="0.995" xml:space="preserve">phase</text>
<text x="472.2" y="943.4" textLength="119.8" lengthAdjust="spacingAndGlyphs" font-family="'Liberation Sans', sans-serif" font-size="36" font-weight="bold" font-style="italic" fill="#151313" stroke="#151313" stroke-width="0.55" opacity="0.995" xml:space="preserve">MXene</text>
<text x="603.5" y="943.4" textLength="108.4" lengthAdjust="spacingAndGlyphs" font-family="'Liberation Sans', sans-serif" font-size="36" fill="#151313" stroke="#151313" stroke-width="0.55" opacity="0.995" xml:space="preserve">sheets</text>
</svg>
</body>
</html>
